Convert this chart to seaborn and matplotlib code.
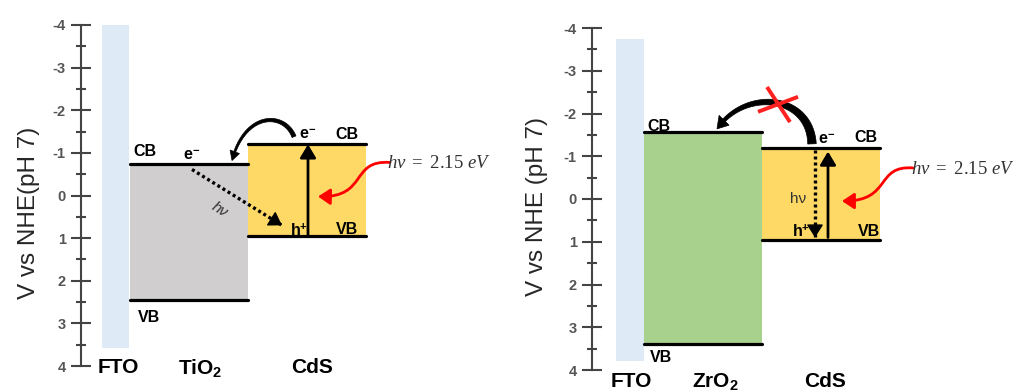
import numpy as np
import pandas as pd
import matplotlib
matplotlib.use("Agg")
import matplotlib.pyplot as plt
import seaborn as sns
from matplotlib.patches import FancyArrowPatch, Polygon
from matplotlib.path import Path

# ---- band energies, V vs NHE (pH 7) ----
fto_left_extent = [-4.00, 3.57]
fto_right_extent = [-3.75, 3.80]
tio2_bands = [-0.75, 2.45]      # CB, VB
zro2_bands = [-1.57, 3.40]      # CB, VB
cds_cb = -1.20
cds_gap = 2.15                  # eV, photon energy of the CdS absorber
cds_bands = [cds_cb, cds_cb + cds_gap]

left_names = ["FTO", r"TiO$_{\mathbf{2}}$", "CdS"]
right_names = ["FTO", r"ZrO$_{\mathbf{2}}$", "CdS"]
ytick_values = [-4, -3, -2, -1, 0, 1, 2, 3, 4]

# ---- colours ----
C_FTO = "#deebf7"
C_TIO2 = "#d0cece"
C_CDS = "#ffd966"
C_ZRO2 = "#a9d18e"
C_AX = "#444444"

sns.set_theme(style="white")
plt.rcParams["font.family"] = ["Liberation Sans", "DejaVu Sans"]
plt.rcParams["mathtext.fontset"] = "custom"
plt.rcParams["mathtext.rm"] = "Liberation Serif"
plt.rcParams["mathtext.it"] = "Liberation Serif:italic"
plt.rcParams["mathtext.bf"] = "Liberation Sans:bold"
plt.rcParams["axes.unicode_minus"] = False

W, H = 1013, 390
fig = plt.figure(figsize=(W / 100, H / 100), dpi=100)
fig.patch.set_facecolor("white")

# axes rectangles (pixel layout) -> one x unit == one pixel
axL = fig.add_axes([81 / W, 24 / H, 439 / W, 341 / H])
axR = fig.add_axes([592 / W, 20 / H, 421 / W, 342 / H])

# column spans inside each panel (x units)
spans_L = [(21, 48), (49, 167), (167, 285)]
spans_R = [(24, 52), (52, 170), (170, 288)]


def setup_axis(ax, xmax, label, label_x, label_y):
    ax.set_xlim(0, xmax)
    ax.set_ylim(4, -4)
    ax.set_facecolor("white")
    ax.set_xticks([])
    ax.set_yticks(ytick_values)
    ax.set_yticks(np.arange(-3.5, 4, 1.0), minor=True)
    ax.set_yticklabels([str(v) for v in ytick_values])
    ax.tick_params(axis="y", which="major", direction="inout", length=14,
                   width=1.5, color=C_AX, labelcolor="#555555", labelsize=10.5,
                   pad=4, left=True)
    ax.tick_params(axis="y", which="minor", direction="inout", length=7.5,
                   width=1.5, color=C_AX, left=True)
    for lab in ax.get_yticklabels():
        lab.set_fontweight("bold")
    sns.despine(ax=ax, bottom=True)
    ax.spines["left"].set_color(C_AX)
    ax.spines["left"].set_linewidth(1.5)
    ax.set_xlabel("")
    ax.set_ylabel(label, fontsize=17.5, color="#262626")
    ax.yaxis.set_label_coords(label_x, label_y)


def draw_layers(ax, spans, extents, colors):
    for (x0, x1), (top, bot), c in zip(spans, extents, colors):
        ax.bar((x0 + x1) / 2, bot - top, bottom=top, width=x1 - x0,
               color=c, edgecolor="none", linewidth=0, zorder=1)
    rows = []
    k = 0
    for (x0, x1), (cb, vb) in zip(spans[1:], extents[1:]):
        for e in (cb, vb):
            rows += [dict(x=x0, E=e, edge=k), dict(x=x1, E=e, edge=k)]
            k += 1
    df = pd.DataFrame(rows)
    sns.lineplot(data=df, x="x", y="E", units="edge", estimator=None,
                 color="black", linewidth=2.3, sort=False, legend=False,
                 ax=ax, zorder=3)


def tapered_arrow(ax, ctrl, w0, w1, head_w, head_len, color="black"):
    P = ax.transData.transform(np.asarray(ctrl, dtype=float))
    t = np.linspace(0, 1, 300)[:, None]
    B = ((1 - t) ** 3) * P[0] + 3 * ((1 - t) ** 2 * t) * P[1] \
        + 3 * ((1 - t) * t ** 2) * P[2] + (t ** 3) * P[3]
    s = np.concatenate([[0], np.cumsum(np.hypot(*np.diff(B, axis=0).T))])
    keep = s <= s[-1] - head_len
    S, ss = B[keep], s[keep]
    d = np.gradient(S, axis=0)
    d /= np.hypot(d[:, 0], d[:, 1])[:, None]
    n = np.stack([-d[:, 1], d[:, 0]], axis=1)
    w = (w0 + (w1 - w0) * ss / ss[-1])[:, None]
    left = S + n * w / 2
    right = S - n * w / 2
    base, nb = S[-1], n[-1]
    poly = np.vstack([left, base + nb * head_w / 2, P[3],
                      base - nb * head_w / 2, right[::-1]])
    ax.add_patch(Polygon(ax.transData.inverted().transform(poly), closed=True,
                         fc=color, ec=color, lw=0.5, zorder=6, clip_on=False))


def wavy_arrow(ax, ctrl, color="red"):
    path = Path(ctrl, [Path.MOVETO, Path.CURVE4, Path.CURVE4, Path.CURVE4])
    ax.add_patch(FancyArrowPatch(path=path,
                                 arrowstyle="-|>,head_length=0.45,head_width=0.3",
                                 mutation_scale=16, color=color, lw=2.0,
                                 zorder=6, clip_on=False))


def dotted_arrow(ax, start, end):
    ax.plot([start[0], end[0]], [start[1], end[1]], color="black", lw=2.4,
            dashes=(0.9, 0.9), dash_capstyle="butt", zorder=5, clip_on=False)
    sx, sy = ax.transData.transform(start)
    ex, ey = ax.transData.transform(end)
    v = np.array([ex - sx, ey - sy])
    v /= np.hypot(*v)
    back = ax.transData.inverted().transform([ex - 6 * v[0], ey - 6 * v[1]])
    ax.annotate("", xy=end, xytext=back,
                arrowprops=dict(arrowstyle="-|>,head_length=0.5,head_width=0.32",
                                mutation_scale=16, color="black", lw=1,
                                shrinkA=0, shrinkB=0), zorder=6)


def solid_arrow(ax, start, end):
    ax.annotate("", xy=end, xytext=start,
                arrowprops=dict(arrowstyle="-|>,head_length=0.5,head_width=0.3",
                                mutation_scale=16, color="black", lw=2.0,
                                shrinkA=0, shrinkB=0), zorder=6)


def label(ax, x, y, s, size=11.5, ha="center", **kw):
    kw.setdefault("fontweight", "bold")
    kw.setdefault("color", "black")
    ax.text(x, y, s, fontsize=size, ha=ha, va="center", zorder=7,
            clip_on=False, **kw)


photon_text = rf"$h\nu\ =\ {cds_gap:.2f}\ eV$"

# ================= left panel: FTO / TiO2 / CdS =================
draw_layers(axL, spans_L, [fto_left_extent, tio2_bands, cds_bands],
            [C_FTO, C_TIO2, C_CDS])
setup_axis(axL, 439, "V vs NHE(pH 7)", -0.093, 0.449)

label(axL, spans_L[1][0] + 3, tio2_bands[0] - 0.28, "CB", ha="left")
label(axL, spans_L[1][0] + 8, tio2_bands[1] + 0.41, "VB", ha="left")
label(axL, 111, tio2_bands[0] - 0.19, r"e$^{\mathbf{-}}$")
dotted_arrow(axL, (111, tio2_bands[0] + 0.14), (201, cds_bands[1] - 0.25))
axL.text(139, 0.33, "hν", fontsize=11, style="italic", color="#333333",
         rotation=-32, ha="center", va="center", zorder=7)

x_exc = 227
label(axL, x_exc, cds_bands[0] - 0.23, r"e$^{\mathbf{-}}$")
label(axL, spans_L[2][1] - 19, cds_bands[0] - 0.23, "CB")
label(axL, spans_L[2][1] - 19, cds_bands[1] - 0.15, "VB")
label(axL, x_exc - 9, cds_bands[1] - 0.12, r"h$^{\mathbf{+}}$")
solid_arrow(axL, (x_exc, cds_bands[1]), (x_exc, cds_bands[0]))

tapered_arrow(axL, [(213, -1.38), (203, -1.97), (164, -1.97), (151, -0.82)],
              w0=4.2, w1=2.0, head_w=10, head_len=9)
wavy_arrow(axL, [(309, -0.775), (269, -0.845), (287, 0.047), (237, 0.023)])
axL.text(306, -0.76, photon_text, fontsize=13.5, color="#333333",
         ha="left", va="center", zorder=7)

for (x0, x1), name, dx in zip(spans_L, left_names, [2.5, 11, 5]):
    label(axL, (x0 + x1) / 2 + dx, 4.04, name, size=15)

# ================= right panel: FTO / ZrO2 / CdS =================
draw_layers(axR, spans_R, [fto_right_extent, zro2_bands, cds_bands],
            [C_FTO, C_ZRO2, C_CDS])
setup_axis(axR, 421, "V vs NHE (pH 7)", -0.1045, 0.478)

label(axR, spans_R[1][0] + 3, zro2_bands[0] - 0.12, "CB", ha="left")
label(axR, spans_R[1][0] + 6, zro2_bands[1] + 0.30, "VB", ha="left")

x_dn, x_up = 223, 236
label(axR, 235, cds_bands[0] - 0.20, r"e$^{\mathbf{-}}$")
label(axR, spans_R[2][1] - 14, cds_bands[0] - 0.24, "CB")
label(axR, spans_R[2][1] - 11, cds_bands[1] - 0.18, "VB")
label(axR, 209, cds_bands[1] - 0.18, r"h$^{\mathbf{+}}$")
axR.text(206, 0.0, "hν", fontsize=11, color="#333333", ha="center",
         va="center", zorder=7)
dotted_arrow(axR, (x_dn, cds_bands[0] + 0.06), (x_dn, cds_bands[1] - 0.05))
solid_arrow(axR, (x_up, cds_bands[1] - 0.05), (x_up, cds_bands[0] + 0.09))

tapered_arrow(axR, [(220, -1.29), (218, -2.44), (153, -2.60), (125, -1.64)],
              w0=8.5, w1=3.5, head_w=14, head_len=11)
# blocked transfer
axR.plot([175, 198], [-2.62, -1.80], color="#ff2020", lw=2.8, zorder=8,
         solid_capstyle="butt")
axR.plot([166, 206], [-2.04, -2.39], color="#ff2020", lw=2.8, zorder=8,
         solid_capstyle="butt")

wavy_arrow(axR, [(321, -0.726), (283, -0.796), (300, 0.047), (250, 0.047)])
axR.text(319, -0.70, photon_text, fontsize=13.5, color="#333333",
         ha="left", va="center", zorder=7)

for (x0, x1), name, dx in zip(spans_R, right_names, [1, 12, 4]):
    label(axR, (x0 + x1) / 2 + dx, 4.27, name, size=15)

fig.savefig("out.png", dpi=100, facecolor="white")
